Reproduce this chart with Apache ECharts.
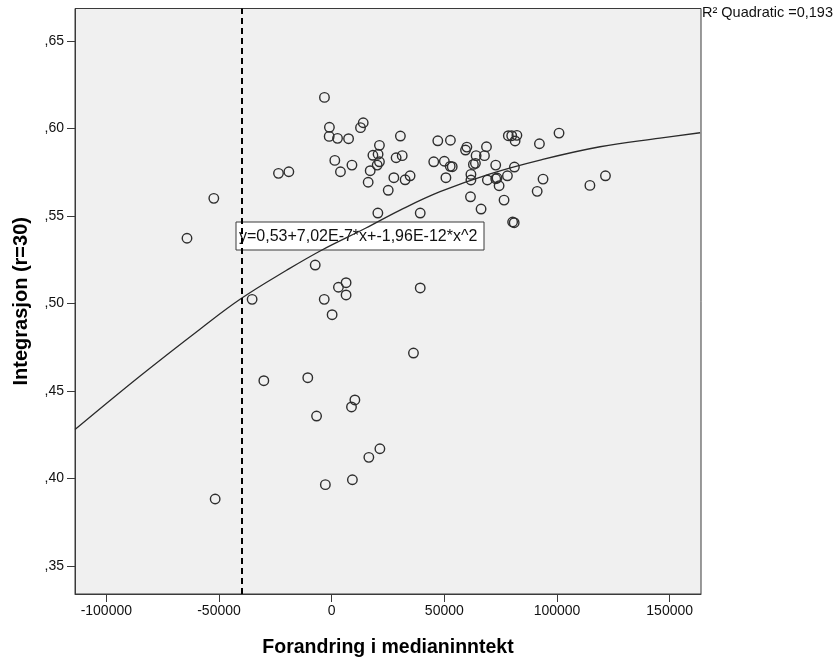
<!DOCTYPE html>
<html><head><meta charset="utf-8">
<script src="https://cdn.jsdelivr.net/npm/echarts@6/dist/echarts.min.js"></script>
<style>html,body{margin:0;padding:0;background:#fff}#c{width:839px;height:661px}</style>
</head><body><div id="c"></div>
<script>
// ---- data ----
const xTicks = [-100000, -50000, 0, 50000, 100000, 150000];
const yTicks = [0.35, 0.40, 0.45, 0.50, 0.55, 0.60, 0.65];
const incomeChange = [
  -3200, -1000, -1100, 2600, 7500, 14000, 12800, 30500, 21200, 18300,
  20600, 21200, 20200, 28600, 31300, 1400, 9000, 3900, 17100, 16200,
  27600, 32600, 34800, 25100, -23600, -19000, -52300, 20500, 39300, 47100,
  52700, 60000, 59400, 68700, 64100, 67800, 63800, 62900, 45300, 50000,
  52600, 53500, 50700, 61800, 61800, 72800, 69100, 72800, 73400, 74300,
  78000, 81100, 78400, 79900, 82200, 81400, 92200, 100900, 93800, 91200,
  114600, 121500, 61600, 66300, 76500, 80300, 81000, -64200, -7300, 6400,
  3000, 6400, -3300, 200, -35300, 39300, 36300, -30100, -10600, 10300,
  8800, -6700, 21400, 16500, 9200, -2800, -51700
];
const integration = [
  0.6178, 0.6007, 0.5955, 0.5944, 0.5942, 0.6033, 0.6005, 0.5957, 0.5904, 0.5847,
  0.5853, 0.5810, 0.5791, 0.5833, 0.5845, 0.5818, 0.5791, 0.5753, 0.5759, 0.5693,
  0.5719, 0.5707, 0.5730, 0.5647, 0.5744, 0.5753, 0.5601, 0.5517, 0.5517, 0.5930,
  0.5933, 0.5894, 0.5877, 0.5896, 0.5845, 0.5845, 0.5801, 0.5795, 0.5810, 0.5813,
  0.5784, 0.5782, 0.5719, 0.5738, 0.5706, 0.5791, 0.5706, 0.5713, 0.5717, 0.5673,
  0.5730, 0.5780, 0.5959, 0.5959, 0.5961, 0.5929, 0.5913, 0.5974, 0.5711, 0.5641,
  0.5675, 0.5730, 0.5610, 0.5540, 0.5591, 0.5466, 0.5462, 0.5373, 0.5220, 0.5119,
  0.5093, 0.5049, 0.5024, 0.4936, 0.5024, 0.5089, 0.4717, 0.4559, 0.4576, 0.4449,
  0.4409, 0.4357, 0.4170, 0.4121, 0.3993, 0.3965, 0.3883
];
const fitX = [-113900, -85000, -58300, -40000, -20000, -4300, 15000, 30400, 48100, 70000, 92500, 119100, 145700, 163500];
const fitY = [0.4280, 0.4586, 0.4855, 0.5030, 0.5190, 0.5306, 0.5430, 0.5534, 0.5639, 0.5740, 0.5820, 0.5896, 0.5945, 0.5976];
const refLineX = -40000;
const xTitle = 'Forandring i medianinntekt';
const yTitle = 'Integrasjon (r=30)';
const eqLabel = 'y=0,53+7,02E-7*x+-1,96E-12*x^2';
const r2Label = 'R\u00B2 Quadratic =0,193';

// ---- chart ----
const FONT = '"Liberation Sans", Arial, sans-serif';
const points = incomeChange.map((x, i) => [x, integration[i]]);
const fit = fitX.map((x, i) => [x, fitY[i]]);
const chart = echarts.init(document.getElementById('c'), null, {renderer: 'canvas'});
chart.setOption({
  animation: false,
  textStyle: {fontFamily: FONT},
  grid: {left: 75, right: 138, top: 8.5, bottom: 67, show: true, containLabel: false,
         outerBoundsMode: 'none',
         backgroundColor: '#f0f0f0', borderColor: '#3a3a3a', borderWidth: 1},
  xAxis: {
    type: 'value', min: -113900, max: 163900,
    name: xTitle, nameLocation: 'middle', nameGap: 44,
    nameTextStyle: {fontSize: 19.5, fontWeight: 'bold', color: '#000', fontFamily: FONT},
    axisLine: {show: true, onZero: false, lineStyle: {color: '#3a3a3a', width: 1}},
    axisTick: {show: true, length: 8, customValues: xTicks, lineStyle: {color: '#3a3a3a'}},
    axisLabel: {customValues: xTicks, fontSize: 14, color: '#111', margin: 10,
                formatter: v => String(Math.round(v))},
    splitLine: {show: false}
  },
  yAxis: {
    type: 'value', min: 0.334, max: 0.6686,
    name: yTitle, nameLocation: 'middle', nameGap: 44, nameRotate: 90,
    nameTextStyle: {fontSize: 20, fontWeight: 'bold', color: '#000', fontFamily: FONT},
    axisLine: {show: true, onZero: false, lineStyle: {color: '#3a3a3a', width: 1}},
    axisTick: {show: true, length: 8, customValues: yTicks, lineStyle: {color: '#3a3a3a'}},
    axisLabel: {customValues: yTicks, fontSize: 14, color: '#111', margin: 11,
                formatter: v => ',' + String(Math.round(v * 100)).padStart(2, '0')},
    splitLine: {show: false}
  },
  series: [
    {
      type: 'scatter', data: points, symbol: 'circle', symbolSize: 9.5,
      itemStyle: {color: 'rgba(0,0,0,0)', borderColor: '#2e2e2e', borderWidth: 1.4, opacity: 1},
      emphasis: {disabled: true},
      markLine: {
        silent: true, symbol: ['none', 'none'], label: {show: false},
        lineStyle: {type: [6, 4], color: '#000', width: 2},
        data: [{xAxis: refLineX}]
      },
      z: 2
    },
    {
      type: 'line', data: fit, smooth: 0.4, showSymbol: false,
      lineStyle: {color: '#2a2a2a', width: 1.3}, z: 3
    }
  ],
  graphic: [
    {
      type: 'group', z: 100,
      children: [
        {type: 'rect', shape: {x: 236, y: 222, width: 248, height: 28},
         style: {fill: '#fff', stroke: '#3a3a3a', lineWidth: 1}},
        {type: 'text', x: 239, y: 236.5,
         style: {text: eqLabel, font: '16px ' + FONT, fill: '#111',
                 textAlign: 'left', textVerticalAlign: 'middle'}}
      ]
    },
    {type: 'text', x: 702, y: 13, z: 100,
     style: {text: r2Label, font: '14.5px ' + FONT, fill: '#111',
             textAlign: 'left', textVerticalAlign: 'middle'}}
  ]
});
</script>
</body></html>
